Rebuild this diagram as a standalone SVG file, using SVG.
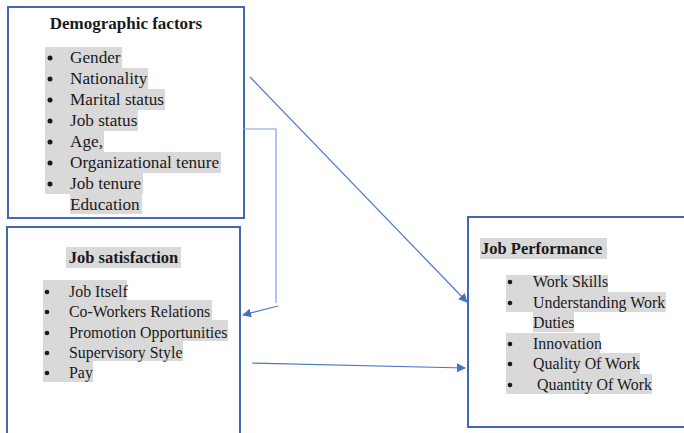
<svg xmlns="http://www.w3.org/2000/svg" width="684" height="433" viewBox="0 0 684 433">
<style>
.box{fill:#fff;stroke:#4169B0;stroke-width:2}
.hl{fill:#D9D9D9}
.t{font-family:"Liberation Serif","Times New Roman",serif;fill:#1a1a1a}
.title{font-weight:bold;font-size:17px}
.title2{font-weight:bold;font-size:16.5px}
.it{font-size:17.2px}
.it2{font-size:15.9px}
.bul{fill:#1a1a1a}
.con{fill:none;stroke:#4A78C8;stroke-width:1.2}
</style>
<defs>
<marker id="ah" viewBox="0 0 10 10" refX="9" refY="5" markerWidth="9" markerHeight="9" markerUnits="userSpaceOnUse" orient="auto">
<path d="M0,0L10,5L0,10z" fill="#4472C4"/>
</marker>
</defs>
<rect width="684" height="433" fill="#fff"/>

<g id="demographic">
<rect class="box" x="8" y="7" width="236" height="211"/>
<text class="t title" x="126" y="29" text-anchor="middle">Demographic factors</text>
<g class="hl">
<rect x="45" y="47" width="77" height="21"/>
<rect x="45" y="68" width="103" height="21"/>
<rect x="45" y="89" width="120" height="21"/>
<rect x="45" y="110" width="93" height="21"/>
<rect x="45" y="131" width="59" height="21"/>
<rect x="45" y="152" width="176" height="21"/>
<rect x="45" y="173" width="98" height="21"/>
<rect x="70" y="194" width="72" height="20"/>
</g>
<g class="bul">
<circle cx="50" cy="58" r="2.5"/>
<circle cx="50" cy="79" r="2.5"/>
<circle cx="50" cy="100" r="2.5"/>
<circle cx="50" cy="121" r="2.5"/>
<circle cx="50" cy="142" r="2.5"/>
<circle cx="50" cy="163" r="2.5"/>
<circle cx="50" cy="184" r="2.5"/>
</g>
<text class="t it" x="70" y="63">Gender</text>
<text class="t it" x="70" y="84">Nationality</text>
<text class="t it" x="70" y="105">Marital status</text>
<text class="t it" x="70" y="126">Job status</text>
<text class="t it" x="70" y="147">Age,</text>
<text class="t it" x="70" y="168">Organizational tenure</text>
<text class="t it" x="70" y="189">Job tenure</text>
<text class="t it" x="70" y="210">Education</text>
</g>

<g id="satisfaction">
<rect class="box" x="7" y="227" width="233" height="220"/>
<rect class="hl" x="66" y="247" width="115" height="21"/>
<text class="t title2" x="123.5" y="263" text-anchor="middle">Job satisfaction</text>
<g class="hl">
<rect x="43" y="280" width="84" height="20"/>
<rect x="43" y="300" width="169" height="20"/>
<rect x="43" y="320" width="185" height="21"/>
<rect x="43" y="341" width="140" height="20"/>
<rect x="43" y="361" width="50" height="21"/>
</g>
<g class="bul">
<circle cx="47" cy="292" r="2.3"/>
<circle cx="47" cy="312" r="2.3"/>
<circle cx="47" cy="333" r="2.3"/>
<circle cx="47" cy="353" r="2.3"/>
<circle cx="47" cy="373" r="2.3"/>
</g>
<text class="t it2" x="69" y="297">Job Itself</text>
<text class="t it2" x="69" y="317">Co-Workers Relations</text>
<text class="t it2" x="69" y="338">Promotion Opportunities</text>
<text class="t it2" x="69" y="358">Supervisory Style</text>
<text class="t it2" x="69" y="378">Pay</text>
</g>

<g id="performance">
<rect class="box" x="468" y="217" width="230" height="210"/>
<rect class="hl" x="480" y="238" width="127" height="21"/>
<text class="t title2" x="481" y="254">Job Performance</text>
<g class="hl">
<rect x="506" y="275" width="102" height="17"/>
<rect x="506" y="292" width="160" height="20"/>
<rect x="533" y="312" width="41" height="20"/>
<rect x="506" y="333" width="94" height="20"/>
<rect x="506" y="353" width="134" height="21"/>
<rect x="506" y="374" width="146" height="20"/>
</g>
<g class="bul">
<circle cx="510" cy="282" r="2.3"/>
<circle cx="510" cy="303" r="2.3"/>
<circle cx="510" cy="344" r="2.3"/>
<circle cx="510" cy="364" r="2.3"/>
<circle cx="510" cy="385" r="2.3"/>
</g>
<text class="t it2" x="533" y="287">Work Skills</text>
<text class="t it2" x="533" y="308">Understanding Work</text>
<text class="t it2" x="533" y="328">Duties</text>
<text class="t it2" x="533" y="349">Innovation</text>
<text class="t it2" x="533" y="369">Quality Of Work</text>
<text class="t it2" x="537" y="390">Quantity Of Work</text>
</g>

<g id="connectors">
<line class="con" x1="250" y1="77" x2="467" y2="302" marker-end="url(#ah)"/>
<polyline class="con" points="243,129 276,129 276,303" style="stroke:#7FA0D8"/>
<line class="con" x1="278" y1="306" x2="243" y2="315" marker-end="url(#ah)"/>
<line class="con" x1="252" y1="363" x2="465" y2="368" marker-end="url(#ah)"/>
</g>
</svg>
